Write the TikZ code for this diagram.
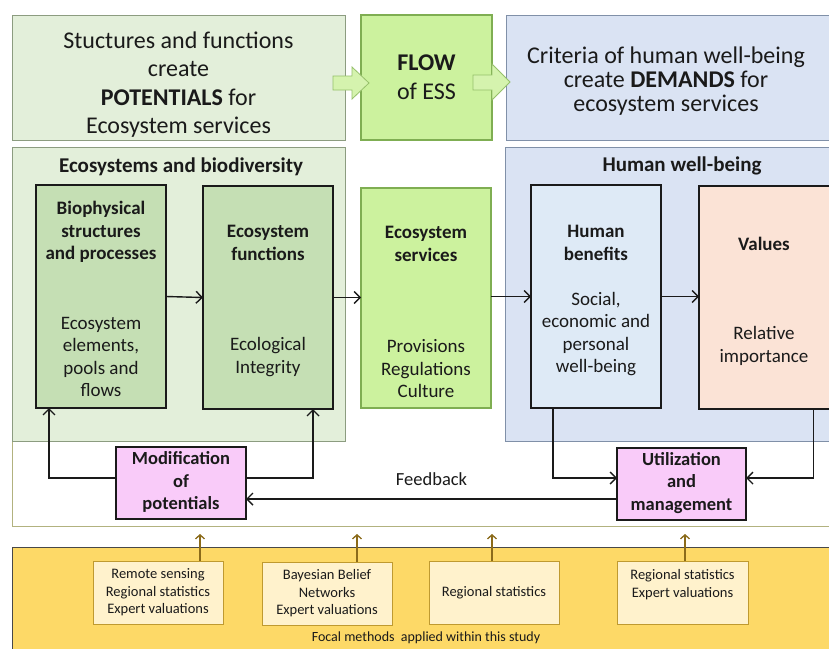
\documentclass[tikz,border=0pt]{standalone}
\usepackage{fontspec}
\setmainfont{Carlito}
\usetikzlibrary{arrows.meta}
\definecolor{pgreen}{HTML}{E3EFDA}
\definecolor{pgreenD}{HTML}{8C9C80}
\definecolor{lime}{HTML}{CCF29E}
\definecolor{limeD}{HTML}{7FAE52}
\definecolor{dgreen}{HTML}{C5DFB4}
\definecolor{pblue}{HTML}{DAE3F3}
\definecolor{pblueD}{HTML}{8090A8}
\definecolor{lblue}{HTML}{DEEAF6}
\definecolor{peach}{HTML}{FBE3D6}
\definecolor{pinkbox}{HTML}{F9CBF9}
\definecolor{yband}{HTML}{FDD967}
\definecolor{mbox}{HTML}{FFF2CC}
\definecolor{mboxD}{HTML}{BF9A30}
\definecolor{brownarr}{HTML}{8B6B1A}
\definecolor{bandD}{HTML}{B2B27F}
\definecolor{barrow}{HTML}{D5F3AE}
\definecolor{barrowD}{HTML}{96C06A}
\definecolor{ink}{HTML}{1A1A1A}
\newcommand\fsz[2]{\fontsize{#1}{#2}\selectfont}
\begin{document}
\begin{tikzpicture}[x=1pt,y=-1pt,
  box/.style={anchor=north west, inner sep=0pt, outer sep=0pt},
  panelG/.style={box, fill=pgreen, draw=pgreenD, line width=1pt},
  panelB/.style={box, fill=pblue, draw=pblueD, line width=1pt},
  limebox/.style={box, fill=lime, draw=limeD, line width=1.2pt},
  innerbox/.style={box, draw=ink, line width=1.6pt, minimum width=130, minimum height=223},
  pinkb/.style={box, fill=pinkbox, draw=ink, line width=1.6pt, minimum width=130, minimum height=72},
  methb/.style={box, fill=mbox, draw=mboxD, line width=0.9pt, minimum width=130, minimum height=63},
  txt/.style={align=center, inner sep=0pt, text=ink},
  ttl/.style={txt, font=\fsz{19}{22.5}\bfseries},
  body/.style={txt, font=\fsz{19}{22.5}},
  mtxt/.style={txt, font=\fsz{14.5}{17.5}},
  conn/.style={draw=ink, line width=1.4pt, -{Straight Barb[length=6pt,width=12pt]}},
  marr/.style={draw=brownarr, line width=1.3pt, -{Straight Barb[length=4pt,width=9pt]}}
]
\useasboundingbox (0,0) rectangle (829,648);
\fill[white] (0,0) rectangle (829,648);
% white feedback band and yellow methods band
\node[box, fill=white, minimum width=830, minimum height=85] (band) at (12,441) {};
\draw[bandD, line width=0.9pt] (band.north west) -- (band.south west) -- (band.south east);
\node[box, fill=yband, draw=ink!80, line width=0.9pt, minimum width=830, minimum height=110] (yb) at (12,547) {};
% top row
\node[panelG, minimum width=333, minimum height=125] (pot) at (12,15) {};
\node[txt, font=\fsz{24}{28.5}] (pott) at (pot.center) [yshift=-7pt] {Stuctures and functions\\create\\\textbf{POTENTIALS} for\\Ecosystem services};
\node[limebox, minimum width=131, minimum height=125] (flow) at (361,15) {};
\node[txt, font=\fsz{24}{29}] (flowt) at (flow.center) {\textbf{FLOW}\\of ESS};
\node[panelB, minimum width=330, minimum height=125] (dem) at (506,15) {};
\node[txt, font=\fsz{24}{24}] (demt) at (666,81) {Criteria of human well-being\\create \textbf{DEMANDS} for\\ecosystem services};
% block arrows
\filldraw[fill=barrow, draw=barrowD, line width=0.8pt] (333,76) -- (352,76) -- (352,67) -- (369,83) -- (352,99) -- (352,90) -- (333,90) -- cycle;
\filldraw[fill=barrow, draw=barrowD, line width=0.8pt] (473,75) -- (492,75) -- (492,64) -- (510,82) -- (492,100) -- (492,90) -- (473,90) -- cycle;
% middle panels
\node[panelG, minimum width=333, minimum height=294] (eco) at (12,147) {};
\node[txt, font=\fsz{21}{24}\bfseries] (ecot) at (181,167) {Ecosystems and biodiversity};
\node[panelB, minimum width=330, minimum height=294] (hwb) at (505,147) {};
\node[txt, font=\fsz{21}{24}\bfseries] (hwbt) at (682,166) {Human well-being};
% inner boxes
\node[innerbox, fill=dgreen] (bio) at (36,185) {};
\node[ttl] (biot) at (101,232) {Biophysical\\structures\\and processes};
\node[body] (biob) at (101,357) {Ecosystem\\elements,\\pools and\\flows};
\node[innerbox, fill=dgreen] (fun) at (203,186) {};
\node[ttl] (funt) at (268,243) {Ecosystem\\functions};
\node[body] (funb) at (268,357) {Ecological\\Integrity};
\node[limebox, minimum width=130, minimum height=220] (ess) at (361,188) {};
\node[ttl] (esst) at (426,244) {Ecosystem\\services};
\node[body] (essb) at (426,369) {Provisions\\Regulations\\Culture};
\node[innerbox, fill=lblue] (hb) at (531,185) {};
\node[ttl] (hbt) at (596,243) {Human\\benefits};
\node[body] (hbb) at (596,334) {Social,\\economic and\\personal\\well-being};
\node[innerbox, fill=peach, minimum width=131] (val) at (699,186) {};
\node[ttl] (valt) at (764,244) {Values};
\node[body] (valb) at (764,346) {Relative\\importance};
% pink boxes
\node[pinkb] (mod) at (116,447) {};
\node[txt, font=\fsz{18.5}{22.5}\bfseries] (modt) at (mod.center) [yshift=1pt] {Modification\\of\\potentials};
\node[pinkb, minimum width=129] (um) at (617,448) {};
\node[txt, font=\fsz{18.5}{22.5}\bfseries] (umt) at (um.center) [yshift=1pt] {Utilization\\and\\management};
% flow arrows
\draw[conn] (bio.east) -- (fun.west);
\draw[conn] (fun.east) -- (fun.east -| ess.west);
\draw[conn] (ess.east |- hb.west) -- (hb.west);
\draw[conn] (hb.east) -- (hb.east -| val.west);
% feedback loops
\draw[conn] ([yshift=5pt]mod.west) -| ([xshift=-52pt]bio.south);
\draw[conn] ([yshift=5pt]mod.east) -| ([xshift=45pt]fun.south);
\draw[conn] ([yshift=-15pt]um.west) -- ([yshift=-15pt]um.west -| mod.east) node[pos=0.5, above=9pt, font=\fsz{18.5}{22}, text=ink] (fb) {Feedback};
\draw[conn] ([xshift=-43pt]hb.south) |- ([yshift=6pt]um.west);
\draw[conn] ([xshift=49pt]val.south) |- ([yshift=6pt]um.east);
% methods
\node[methb] (m1) at (93,561) {};
\node[mtxt] (m1t) at (m1.center) {Remote sensing\\Regional statistics\\Expert valuations};
\node[methb] (m2) at (262,562) {};
\node[mtxt] (m2t) at (m2.center) {Bayesian Belief\\Networks\\Expert valuations};
\node[methb] (m3) at (429,561) {};
\node[mtxt] (m3t) at (m3.center) {Regional statistics};
\node[methb, minimum width=131] (m4) at (617,561) {};
\node[mtxt] (m4t) at (m4.center) [yshift=8pt] {Regional statistics\\Expert valuations};
\coordinate (a1) at (200,534);
\coordinate (a2) at (357,534);
\coordinate (a3) at (492,534);
\coordinate (a4) at (685,534);
\draw[marr] (m1.north -| a1) -- (a1);
\draw[marr] (m2.north -| a2) -- (a2);
\draw[marr] (m3.north -| a3) -- (a3);
\draw[marr] (m4.north -| a4) -- (a4);
\node[txt, font=\fsz{14}{16}] (focal) at (426,638) {Focal methods\ \ applied within this study};
\end{tikzpicture}
\end{document}
